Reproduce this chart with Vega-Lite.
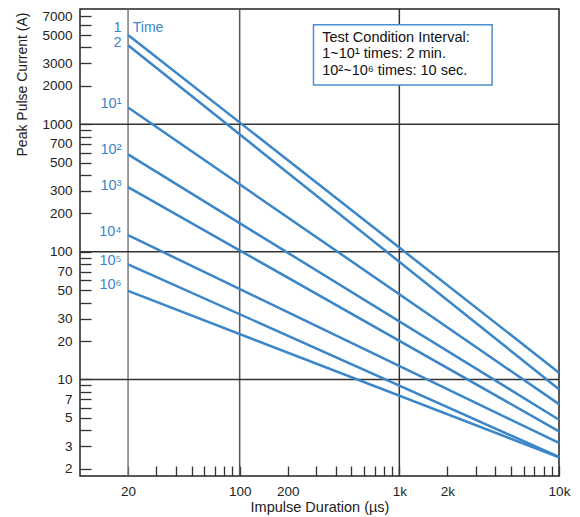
{
  "$schema": "https://vega.github.io/schema/vega-lite/v6.json",
  "autosize": {"type": "none"},
  "width": 479,
  "height": 467,
  "padding": {"left": 80, "top": 9, "right": 21, "bottom": 41},
  "background": "white",
  "config": {
    "view": {"stroke": "#222222", "strokeWidth": 1.5},
    "font": "Liberation Sans",
    "axis": {"labelFont": "Liberation Sans", "titleFont": "Liberation Sans", "labelColor": "#222222", "titleColor": "#222222", "titleFontWeight": "normal", "domain": false, "grid": false}
  },
  "datasets": {
    "lines": [
      {"series": "1", "t": 20, "i": 5000}, {"series": "1", "t": 10000, "i": 11.3},
      {"series": "2", "t": 20, "i": 4160}, {"series": "2", "t": 10000, "i": 8.36},
      {"series": "10^1", "t": 20, "i": 1353}, {"series": "10^1", "t": 10000, "i": 6.4},
      {"series": "10^2", "t": 20, "i": 580}, {"series": "10^2", "t": 10000, "i": 4.83},
      {"series": "10^3", "t": 20, "i": 321}, {"series": "10^3", "t": 10000, "i": 3.92},
      {"series": "10^4", "t": 20, "i": 135}, {"series": "10^4", "t": 10000, "i": 3.18},
      {"series": "10^5", "t": 20, "i": 79.8}, {"series": "10^5", "t": 10000, "i": 2.47},
      {"series": "10^6", "t": 20, "i": 49.4}, {"series": "10^6", "t": 10000, "i": 2.45}
    ],
    "labels": [
      {"label": "1", "t": 18.2, "i": 5670},
      {"label": "2", "t": 18.2, "i": 4310},
      {"label": "10¹", "t": 18.2, "i": 1435},
      {"label": "10²", "t": 18.2, "i": 628},
      {"label": "10³", "t": 18.2, "i": 330},
      {"label": "10⁴", "t": 18.2, "i": 143},
      {"label": "10⁵", "t": 18.2, "i": 84.5},
      {"label": "10⁶", "t": 18.2, "i": 54.5}
    ],
    "vgrid": [{"t": 20, "c": "#7a7a7a"}, {"t": 100, "c": "#555555"}, {"t": 1000, "c": "#333333"}],
    "hgrid": [{"i": 10}, {"i": 100}, {"i": 1000}],
    "box": [{"t1": 290, "t2": 3810, "i1": 2031, "i2": 6010}],
    "note": [
      {"text": "Test Condition Interval:", "t": 329, "i": 4770},
      {"text": "1~10¹ times: 2 min.", "t": 329, "i": 3540},
      {"text": "10²~10⁶ times: 10 sec.", "t": 329, "i": 2630}
    ]
  },
  "layer": [
    {
      "data": {"name": "vgrid"},
      "mark": {"type": "rule", "strokeWidth": 1.5},
      "encoding": {
        "x": {"field": "t", "type": "quantitative", "scale": {"type": "log", "domain": [10, 10000], "nice": false},
          "axis": {
            "title": "Impulse Duration (µs)",
            "titleFontSize": 14.5,
            "titlePadding": 3,
            "labelFontSize": 13.5,
            "values": [20, 30, 40, 50, 60, 70, 80, 90, 100, 200, 300, 400, 500, 600, 700, 800, 900, 1000, 2000, 3000, 4000, 5000, 6000, 7000, 8000, 9000, 10000],
            "labelExpr": "indexof([20,100,200,1000,2000,10000], datum.value) >= 0 ? (datum.value >= 1000 ? (datum.value/1000) + 'k' : '' + datum.value) : ''",
            "ticks": true,
            "tickSize": -10,
            "tickColor": "#333333",
            "tickWidth": 1.3,
            "labelPadding": 18,
            "labelFlush": false,
            "labelOverlap": false
          }
        },
        "color": {"field": "c", "type": "nominal", "scale": null}
      }
    },
    {
      "data": {"name": "hgrid"},
      "mark": {"type": "rule", "strokeWidth": 1.5, "color": "#333333"},
      "encoding": {
        "y": {"field": "i", "type": "quantitative", "scale": {"type": "log", "domain": [1.75, 8000], "nice": false},
          "axis": {
            "title": "Peak Pulse Current (A)",
            "titleFontSize": 14,
            "titleAngle": -90,
            "titleX": -58,
            "titleY": 75,
            "titleAlign": "center",
            "titleBaseline": "middle",
            "labelFontSize": 13.5,
            "values": [2, 3, 4, 5, 6, 7, 8, 9, 10, 20, 30, 40, 50, 60, 70, 80, 90, 100, 200, 300, 400, 500, 600, 700, 800, 900, 1000, 2000, 3000, 4000, 5000, 6000, 7000],
            "labelExpr": "indexof([2,3,5,7,10,20,30,50,70,100,200,300,500,700,1000,2000,3000,5000,7000], datum.value) >= 0 ? '' + datum.value : ''",
            "ticks": true,
            "tickSize": -11,
            "tickColor": "#333333",
            "tickWidth": 1.3,
            "labelPadding": 19,
            "labelFlush": false,
            "labelOverlap": false
          }
        }
      }
    },
    {
      "data": {"name": "lines"},
      "mark": {"type": "line", "strokeWidth": 2.5, "color": "#3a86c8"},
      "encoding": {
        "x": {"field": "t", "type": "quantitative"},
        "y": {"field": "i", "type": "quantitative"},
        "detail": {"field": "series"}
      }
    },
    {
      "data": {"name": "labels"},
      "mark": {"type": "text", "align": "right", "baseline": "middle", "fontSize": 14.5, "color": "#3a86c8", "font": "Liberation Sans"},
      "encoding": {
        "x": {"field": "t", "type": "quantitative"},
        "y": {"field": "i", "type": "quantitative"},
        "text": {"field": "label"}
      }
    },
    {
      "data": {"values": [{"label": "Time", "t": 21.4, "i": 5670}]},
      "mark": {"type": "text", "align": "left", "baseline": "middle", "fontSize": 14, "color": "#3a86c8", "font": "Liberation Sans"},
      "encoding": {
        "x": {"field": "t", "type": "quantitative"},
        "y": {"field": "i", "type": "quantitative"},
        "text": {"field": "label"}
      }
    },
    {
      "data": {"name": "box"},
      "mark": {"type": "rect", "fill": "white", "stroke": "#4a90d0", "strokeWidth": 1.5},
      "encoding": {
        "x": {"field": "t1", "type": "quantitative"},
        "x2": {"field": "t2"},
        "y": {"field": "i1", "type": "quantitative"},
        "y2": {"field": "i2"}
      }
    },
    {
      "data": {"name": "note"},
      "mark": {"type": "text", "align": "left", "baseline": "middle", "fontSize": 14.5, "color": "#111111", "font": "Liberation Sans"},
      "encoding": {
        "x": {"field": "t", "type": "quantitative"},
        "y": {"field": "i", "type": "quantitative"},
        "text": {"field": "text"}
      }
    }
  ]
}
